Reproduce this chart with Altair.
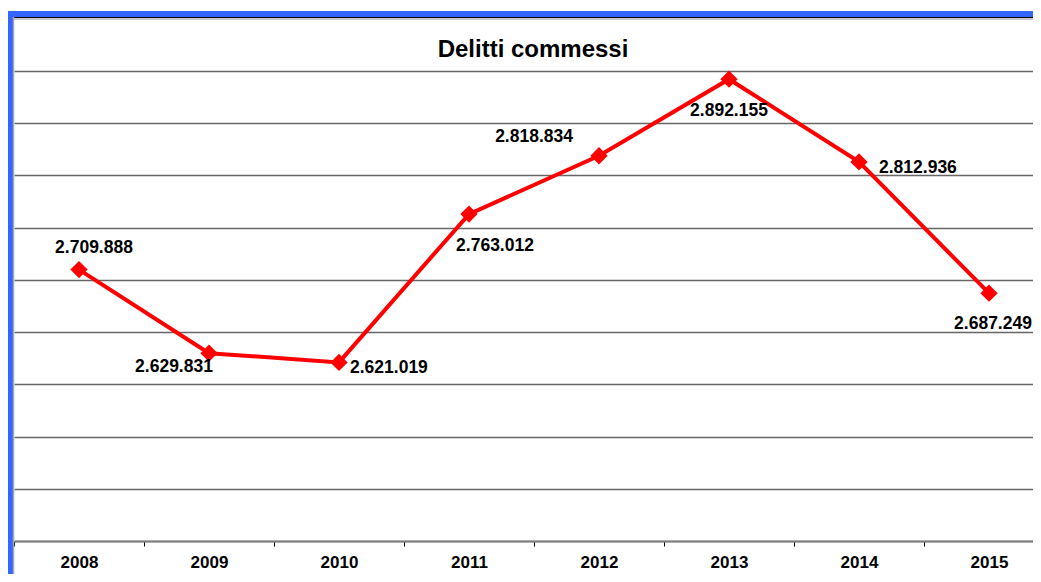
import altair as alt
import pandas as pd

years = ["2008", "2009", "2010", "2011", "2012", "2013", "2014", "2015"]
values = [2709888, 2629831, 2621019, 2763012, 2818834, 2892155, 2812936, 2687249]
labels = ["2.709.888", "2.629.831", "2.621.019", "2.763.012",
          "2.818.834", "2.892.155", "2.812.936", "2.687.249"]
grid_values = list(range(2450000, 2900001, 50000))
title_text = "Delitti commessi"

df = pd.DataFrame({"year": years, "value": values, "label": labels})

FONT = "Liberation Sans"
RED = "#FF0000"
BLUE = "#3366FF"

W, H = 1019, 470

x_enc = alt.X("year:N", sort=years, title=None,
              scale=alt.Scale(range=[0, 1040], paddingInner=0, paddingOuter=0),
              axis=alt.Axis(labelAngle=0, tickBand="extent", ticks=True, tickSize=5,
                            tickColor="#000000", tickWidth=1,
                            domainColor="#808080", domainWidth=2,
                            labelFont=FONT, labelFontSize=17, labelFontWeight="bold",
                            labelColor="#000000", labelPadding=8, grid=False))
y_enc = alt.Y("value:Q", title=None,
              scale=alt.Scale(domain=[2450000, 2900000], nice=False, zero=False),
              axis=alt.Axis(values=grid_values, labels=False, ticks=False, domain=False,
                            grid=True, gridColor="#666666", gridWidth=1.5))

base = alt.Chart(df)

line = base.mark_line(color=RED, strokeWidth=4).encode(x=x_enc, y=y_enc)
pts = base.mark_point(shape="diamond", filled=True, size=300, color=RED, opacity=1).encode(
    x=alt.X("year:N", sort=years), y="value:Q")

# label placement: (align, dx, dy) per year
placement = {
    "2008": ("center", 15, -22),
    "2009": ("center", -35, 14),
    "2010": ("left", 11, 6),
    "2011": ("center", 26, 32),
    "2012": ("right", -26, -19),
    "2013": ("center", 0, 32),
    "2014": ("left", 20, 6),
    "2015": ("center", 4, 31),
}
text_layers = []
for yr, (al, dx, dy) in placement.items():
    text_layers.append(
        base.transform_filter(alt.datum.year == yr)
        .mark_text(font=FONT, fontSize=17.5, fontWeight="bold", color="#000000",
                   align=al, baseline="middle", dx=dx, dy=dy)
        .encode(x=alt.X("year:N", sort=years), y="value:Q", text="label:N"))

one = alt.Chart(pd.DataFrame({"t": [title_text]}))
title_mark = one.mark_text(font=FONT, fontSize=24, fontWeight="bold", color="#000000",
                           align="center", baseline="middle").encode(
    x=alt.value(519), y=alt.value(-21), text="t:N")
top_blue = one.mark_rule(color=BLUE, strokeWidth=6).encode(
    x=alt.value(-6), x2=alt.value(1100), y=alt.value(-57))
top_black = one.mark_rule(color="#000000", strokeWidth=1).encode(
    x=alt.value(-1), x2=alt.value(1100), y=alt.value(-53.5))
top_grey = one.mark_rule(color="#c8c8c8", strokeWidth=2).encode(
    x=alt.value(-1), x2=alt.value(1100), y=alt.value(-52))
left_blue = one.mark_rule(color=BLUE, strokeWidth=5).encode(
    x=alt.value(-3.5), y=alt.value(-60), y2=alt.value(520))
left_grey = one.mark_rule(color="#a8a8a8", strokeWidth=1.5).encode(
    x=alt.value(-0.5), y=alt.value(-54), y2=alt.value(520))

chart = alt.layer(line, pts, *text_layers, title_mark, top_blue, top_black, top_grey,
                  left_blue, left_grey).properties(
    width=W, height=H,
    autosize=alt.AutoSizeParams(type="none"),
    padding={"left": 6, "top": 63, "right": 0, "bottom": 33},
    background="#FFFFFF",
).configure_view(stroke=None)

chart.save("out.html", embed_options={"renderer": "svg", "actions": False})
